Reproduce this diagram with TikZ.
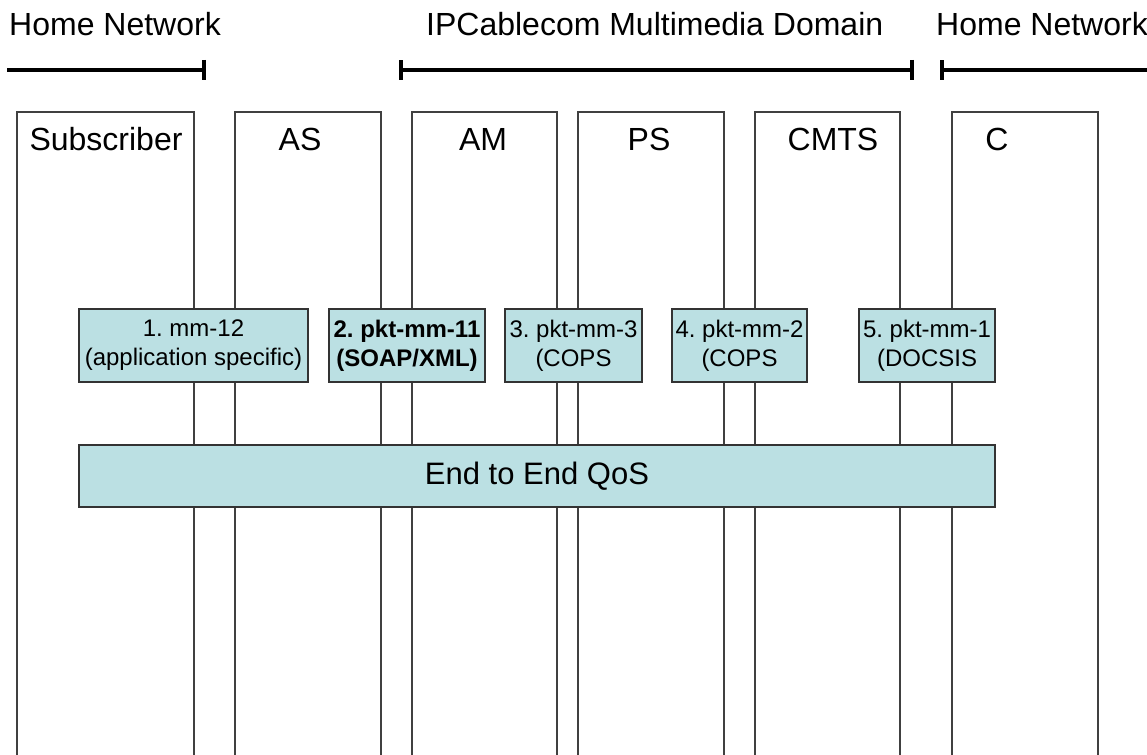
\documentclass[tikz,border=0pt]{standalone}
\usepackage{fontspec}
\setmainfont{Liberation Sans}
\usetikzlibrary{positioning,arrows.meta}
\definecolor{qosfill}{RGB}{187,224,227}
\frenchspacing
\tikzset{
  my column/.style={
    draw=black!75,
    line width=1.2pt,
    rectangle,
    anchor=north west,
    minimum height=700pt,
    inner sep=0pt,
    outer sep=0pt
  },
  my title/.style={
    anchor=base west,
    inner sep=0pt,
    font=\fontsize{32}{38}\selectfont
  },
  my head/.style={
    anchor=base,
    inner sep=0pt,
    font=\fontsize{32}{38}\selectfont
  },
  my iface/.style={
    draw=black!80,
    line width=1.3pt,
    fill=qosfill,
    rectangle,
    minimum height=73pt,
    inner sep=2pt,
    outer sep=0pt,
    align=center,
    font=\fontsize{24}{29}\selectfont
  },
  my qos/.style={
    my iface,
    anchor=north west,
    minimum width=916pt,
    minimum height=62pt,
    font=\fontsize{31}{37}\selectfont
  },
  my domain/.style={
    line width=4pt
  }
}

\begin{document}
\begin{tikzpicture}[x=1pt,y=-1pt]
\useasboundingbox (0,0) rectangle (1147,754);
\clip (0,0) rectangle (1147,754);
% Domains
\node[my title] (hn1) at (9,36)   {Home Network};
\node[my title] (ipc) at (426,36) {IPCablecom Multimedia Domain};
\node[my title] (hn2) at (936,36) {Home Network};
\coordinate (hn1 a) at (7,70);   \coordinate (hn1 b) at (206,70);
\coordinate (ipc a) at (399,70); \coordinate (ipc b) at (914,70);
\coordinate (hn2 a) at (940,70); \coordinate (hn2 b) at (1147,70);
\draw[my domain,-{Bar[width=20pt]}] (hn1 a) -- (hn1 b);
\draw[my domain,{Bar[width=20pt]}-{Bar[width=20pt]}] (ipc a) -- (ipc b);
\draw[my domain,{Bar[width=20pt]}-] (hn2 a) -- (hn2 b);
% Columns
\node[my column,minimum width=177pt] (sub)  at (17,112)       {};
\node[my column,minimum width=146pt] (as)   [right=41pt of sub] {};
\node[my column,minimum width=145pt] (am)   [right=31pt of as]  {};
\node[my column,minimum width=146pt] (ps)   [right=21pt of am]  {};
\node[my column,minimum width=145pt] (cmts) [right=31pt of ps]  {};
\node[my column,minimum width=146pt] (c)    [right=52pt of cmts] {};
\node[my head] (sub text)  at (106,151) {Subscriber};
\node[my head] (as text)   at (300,151) {AS};
\node[my head] (am text)   at (483,151) {AM};
\node[my head] (ps text)   at (649,151) {PS};
\node[my head] (cmts text) at (833,151) {CMTS};
\node[my head] (c text)    at (997,151) {C};
% Interfaces
\node[my iface,anchor=north west,minimum width=229pt] (mm12) at (79,309)
  {1. mm-12\\(application specific)};
\node[my iface,minimum width=156pt] (mm11) [right=21pt of mm12]
  {\bfseries 2. pkt-mm-11\\\bfseries (SOAP/XML)};
\node[my iface,minimum width=137pt] (mm3) [right=20pt of mm11]
  {3. pkt-mm-3\\(COPS};
\node[my iface,minimum width=135pt] (mm2) [right=30pt of mm3]
  {4. pkt-mm-2\\(COPS};
\node[my iface,minimum width=136pt] (mm1) [right=52pt of mm2]
  {5. pkt-mm-1\\(DOCSIS};
% End to end
\node[my qos] (qos) at (79,445) {End to End QoS};
\end{tikzpicture}
\end{document}
